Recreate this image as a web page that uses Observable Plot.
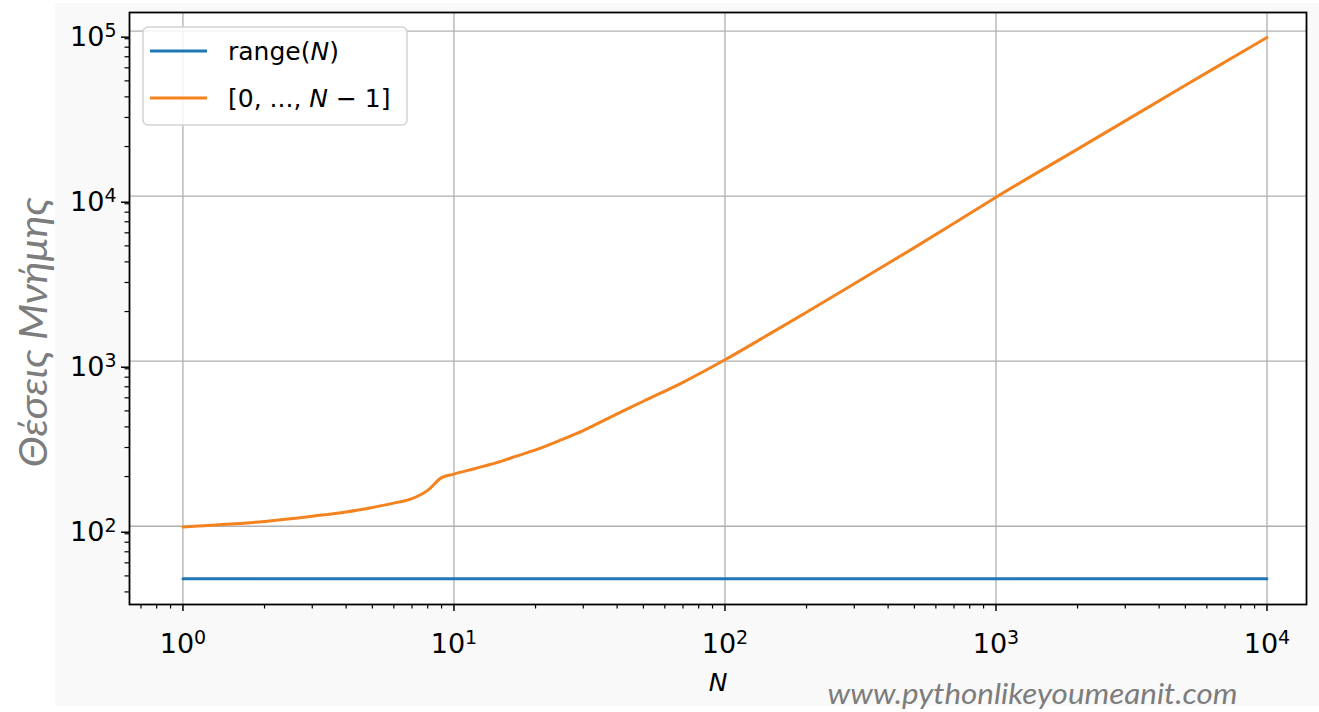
<!DOCTYPE html>
<html>
<head>
<meta charset="utf-8">
<script src="https://cdn.jsdelivr.net/npm/d3@7"></script>
<script src="https://cdn.jsdelivr.net/npm/@observablehq/plot@0.6"></script>
<style>
  body { margin: 0; background: #ffffff; }
  #chart { position: relative; width: 1319px; height: 712px; }
</style>
</head>
<body>
<div id="chart"></div>
<script>
// ---- data ----
const listN = [1, 1.5, 2, 3, 4, 5, 6, 7, 8, 9, 10, 12, 15, 17, 20, 25, 30, 40, 50, 70, 100, 150, 200, 300, 500, 700, 1000, 2000, 3000, 5000, 7000, 10000];
const listBytes = [99, 103, 107, 115, 122, 130, 138, 147, 165, 197, 207, 224, 248, 266, 290, 335, 380, 480, 572, 745, 1020, 1500, 1980, 2950, 4880, 6850, 9850, 19300, 28600, 47000, 65000, 91600];
const rangeN = [1, 10000];
const rangeBytes = [48, 48];

const seriesNames = ["range(N)", "[0, ..., N − 1]"];
const seriesColors = ["#1f77b4", "#f3821f"];

const xTicks = [1, 10, 100, 1000, 10000];
const yTicks = [100, 1000, 10000, 100000];
const xMinorTicks = [0.7, 0.8, 0.9, 2, 3, 4, 5, 6, 7, 8, 9, 20, 30, 40, 50, 60, 70, 80, 90, 200, 300, 400, 500, 600, 700, 800, 900, 2000, 3000, 4000, 5000, 6000, 7000, 8000, 9000];
const yMinorTicks = [40, 50, 60, 70, 80, 90, 200, 300, 400, 500, 600, 700, 800, 900, 2000, 3000, 4000, 5000, 6000, 7000, 8000, 9000, 20000, 30000, 40000, 50000, 60000, 70000, 80000, 90000];

const xLabel = "N";
const yLabel = "Θέσεις Μνήμης";
const footer = "www.pythonlikeyoumeanit.com";

// ---- tables for the library ----
const rangeData = rangeN.map((n, i) => ({N: n, bytes: rangeBytes[i]}));
const listData = listN.map((n, i) => ({N: n, bytes: listBytes[i]}));
const fmt = d => "10^" + Math.round(Math.log10(d));

const W = 1319, H = 712;
const mL = 129, mR = 13, mT = 12, mB = 108;

const plot = Plot.plot({
  width: W, height: H,
  marginLeft: mL, marginRight: mR, marginTop: mT, marginBottom: mB,
  style: {background: "transparent", fontFamily: "'DejaVu Sans', sans-serif", fontSize: "25px", color: "black", overflow: "visible"},
  x: {type: "log", domain: [0.635, 13990], axis: null},
  y: {type: "log", domain: [33.55, 129800], axis: null},
  marks: [
    Plot.frame({fill: "white", stroke: null}),
    Plot.gridX(xTicks, {stroke: "#b0b0b0", strokeOpacity: 1, strokeWidth: 1.3}),
    Plot.gridY(yTicks, {stroke: "#b0b0b0", strokeOpacity: 1, strokeWidth: 1.3}),
    Plot.line(rangeData, {x: "N", y: "bytes", stroke: seriesColors[0], strokeWidth: 3}),
    Plot.line(listData, {x: "N", y: "bytes", stroke: seriesColors[1], strokeWidth: 3, curve: "monotone-x"}),
    Plot.frame({stroke: "black", strokeWidth: 1.8}),
    Plot.axisX(xMinorTicks, {anchor: "bottom", tickSize: 4.5, strokeWidth: 1.2, tickFormat: () => "", label: null}),
    Plot.axisX(xTicks, {anchor: "bottom", tickSize: 7, strokeWidth: 1.5, tickPadding: 22, tickFormat: fmt, label: null, fontSize: 27}),
    Plot.axisY(yMinorTicks, {anchor: "left", tickSize: 4.5, strokeWidth: 1.2, tickFormat: () => "", label: null}),
    Plot.axisY(yTicks, {anchor: "left", tickSize: 8, strokeWidth: 1.5, tickPadding: 5, tickFormat: fmt, label: null, fontSize: 27, dy: 6}),
    Plot.text([xLabel], {text: d => d, frameAnchor: "bottom", dy: 86, fontStyle: "italic", fontSize: 25, fill: "black"}),
    Plot.text([yLabel], {text: d => d, frameAnchor: "left", textAnchor: "middle", rotate: -90, dx: -95, dy: 24, fontSize: 38, fontStyle: "italic", fill: "#7d7d7d", fontFamily: "Lato, 'Open Sans', sans-serif"}),
    Plot.text([footer], {text: d => d, frameAnchor: "bottom", textAnchor: "middle", dx: 314.5, dy: 99, fontSize: 28, fontStyle: "italic", fill: "#7d7d7d", fontFamily: "Lato, 'Open Sans', sans-serif"})
  ]
});

const svg = d3.select(plot);

// figure background (light grey) behind everything
svg.insert("rect", ":first-child")
  .attr("x", 55).attr("y", 3).attr("width", W - 55).attr("height", H - 9)
  .attr("fill", "#f9f9f9");

// superscript exponents on log tick labels
svg.selectAll("text").each(function () {
  const m = /^10\^(\d+)$/.exec(this.textContent);
  if (m) {
    const s = d3.select(this);
    s.text("10");
    s.append("tspan").attr("dy", "-9").attr("font-size", "19px").text(m[1]);
  }
});

// stretch label/footer text to the reference widths
svg.selectAll("text").filter(function () { return this.textContent === yLabel; })
  .attr("textLength", 270).attr("lengthAdjust", "spacingAndGlyphs");
svg.selectAll("text").filter(function () { return this.textContent === footer; })
  .attr("textLength", 410).attr("lengthAdjust", "spacingAndGlyphs");

// legend (top-left inside the axes)
const lx = mL + 14, ly = mT + 15;
const lg = svg.append("g").attr("aria-label", "legend");
lg.append("rect").attr("x", lx).attr("y", ly).attr("width", 264).attr("height", 98).attr("rx", 5)
  .attr("fill", "white").attr("fill-opacity", 0.85).attr("stroke", "#d2d2d2").attr("stroke-width", 1.5);
seriesNames.forEach((name, i) => {
  const cy = ly + 24 + i * 47;
  lg.append("line").attr("x1", lx + 7).attr("x2", lx + 64).attr("y1", cy).attr("y2", cy)
    .attr("stroke", seriesColors[i]).attr("stroke-width", 3);
  const t = lg.append("text").attr("x", lx + 85).attr("y", cy).attr("dy", "0.36em")
    .attr("text-anchor", "start")
    .attr("font-family", "'DejaVu Sans', sans-serif").attr("font-size", 25).attr("fill", "black");
  const parts = name.split("N");
  parts.forEach((p, j) => {
    t.append("tspan").text(p);
    if (j < parts.length - 1) t.append("tspan").attr("font-style", "italic").text("N");
  });
});

document.getElementById("chart").appendChild(plot);
</script>
</body>
</html>
